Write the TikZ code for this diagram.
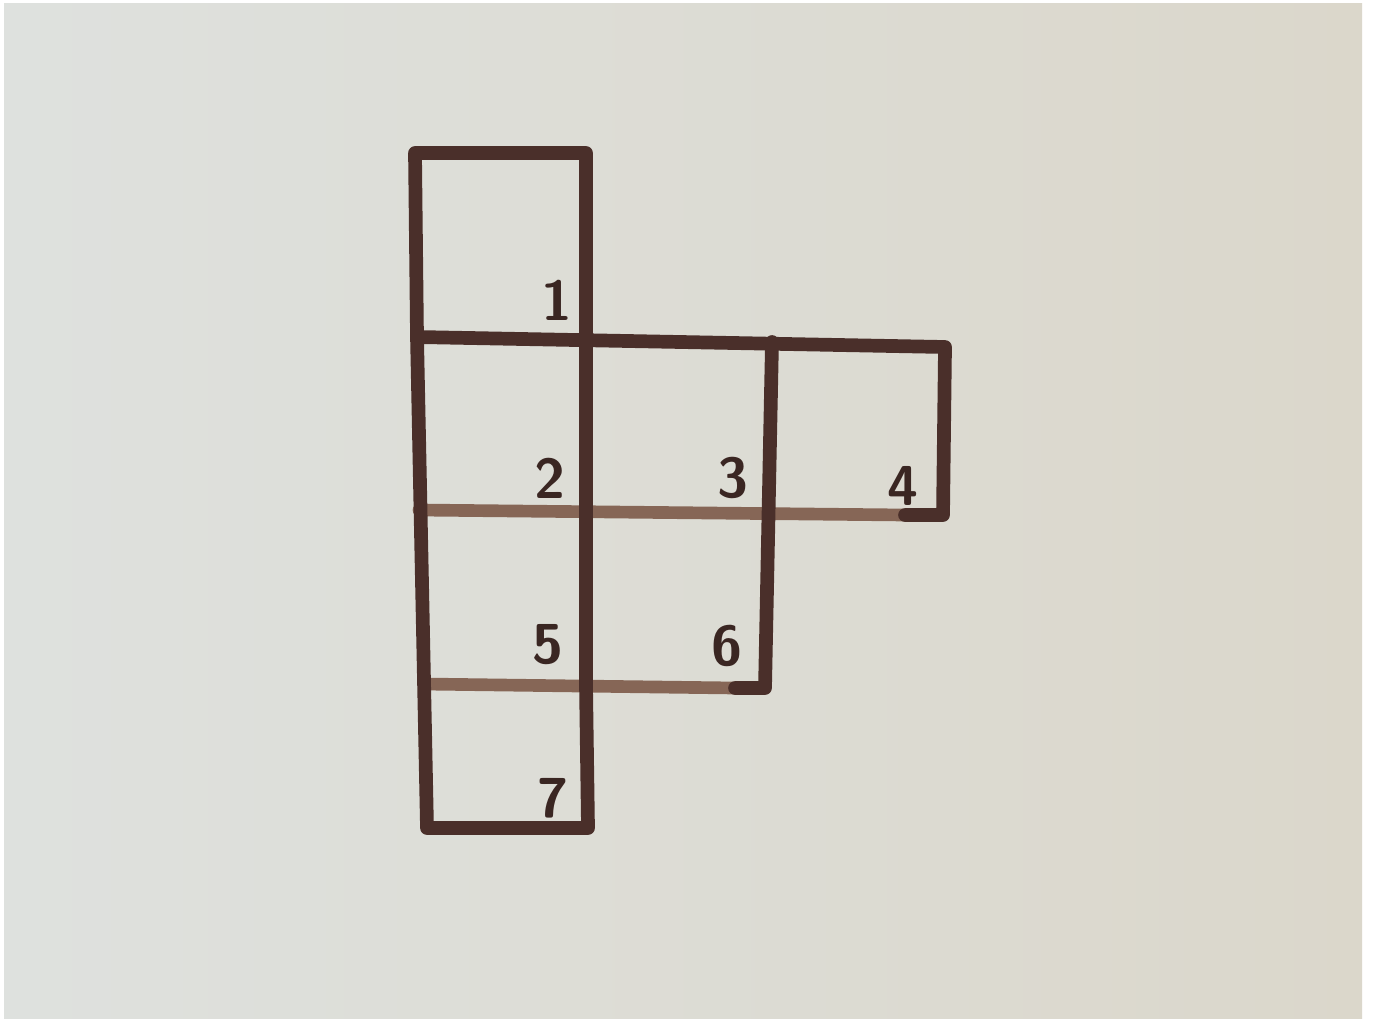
\documentclass[tikz,border=0pt]{standalone}
\usepackage{tikz}
\usetikzlibrary{positioning}
\usepackage{xcolor}
\definecolor{paperleft}{HTML}{DEE1DE}
\definecolor{paperright}{HTML}{DBD7CB}
\definecolor{inkdark}{HTML}{4A2F2A}
\definecolor{inklight}{HTML}{866656}
\definecolor{digitink}{HTML}{3A2622}

\begin{document}
\begin{tikzpicture}[
  x=0.01cm, y=-0.01cm,
  every node/.style={font=\sffamily\bfseries\fontsize{16}{16}\selectfont},
  ink/.style={draw=inkdark, line width=3.9pt, line cap=round, line join=round},
  faint/.style={draw=inklight, line width=3.6pt, line cap=round},
  digit/.style={text=digitink, inner sep=0pt}
]
  \useasboundingbox (0,0) rectangle (1374,1021);
  \fill[white] (0,0) rectangle (1374,1021);
  \shade[left color=paperleft, right color=paperright] (4,3) rectangle (1362,1018);

  % inner lines
  \draw[faint] (419,510) -- (905,515);
  \draw[faint] (424,684) -- (735,688);
  % outline of the net
  \draw[ink] (586,337) -- (586,153) -- (415,153) -- (417,337) -- (427,828) -- (588,828) -- (586,685);
  \draw[ink] (417,337) -- (945,347) -- (943,515) -- (905,515);
  \draw[ink] (772,342) -- (765,688) -- (735,688);
  \draw[ink] (586,337) -- (586,685);

  % numbers
  \node[digit] (n1) at (557,300) {1};
  \node[digit] (n2) at (550,478) {2};
  \node[digit] (n3) at (733,478) {3};
  \node[digit] (n4) at (903,486) {4};
  \node[digit] (n5) at (548,645) {5};
  \node[digit] (n6) at (727,646) {6};
  \node[digit] (n7) at (553,798) {7};
\end{tikzpicture}
\end{document}
